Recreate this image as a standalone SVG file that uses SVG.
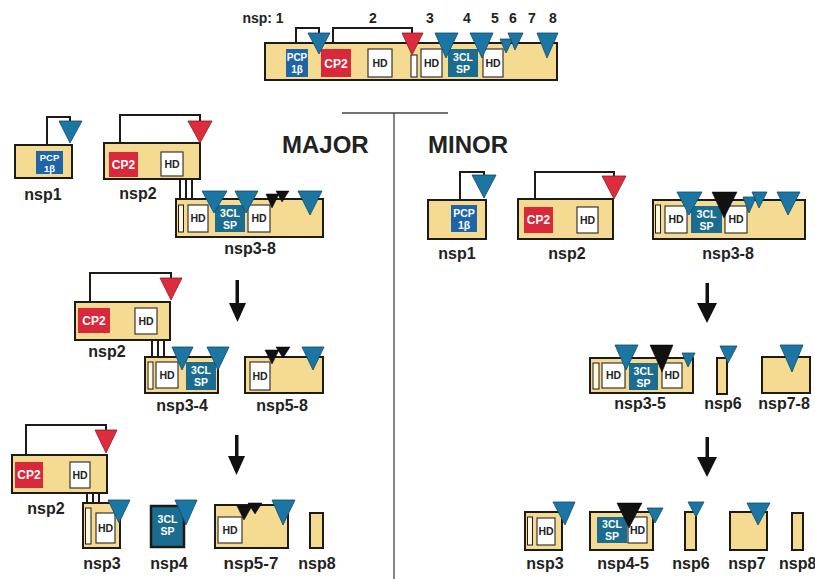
<svg xmlns="http://www.w3.org/2000/svg" width="815" height="579" viewBox="0 0 815 579">
<style>
text{font-family:"Liberation Sans",Arial,sans-serif;font-weight:bold}
.bar{fill:#f5da92;stroke:#1e1a16;stroke-width:2}
.strip{fill:#fff8e0;stroke:#1e1a16;stroke-width:1}
.hd{fill:#fff;stroke:#3a3530;stroke-width:1.2}
.pcp{fill:#1f63a8}
.cp{fill:#d9283a}
.sp{fill:#1a6d90}
.sp4{fill:#1a6d90;stroke:#1e1a16;stroke-width:2.5}
.tb{fill:#1b76a4;stroke:#0f4a68;stroke-width:0.8}
.tr{fill:#dc2c3e;stroke:#8a1a24;stroke-width:0.8}
.tk{fill:#111;stroke:#000;stroke-width:0.5}
.br{fill:none;stroke:#1e1a16;stroke-width:2}
.lk{stroke:#1e1a16;stroke-width:2}
.div{stroke:#444;stroke-width:1.3;fill:none}
.arr{fill:#111}
.w{fill:#fff;font-size:10.5px;text-anchor:middle}
.c{fill:#fff;font-size:12px;text-anchor:middle}
.d{fill:#222;font-size:10.5px;text-anchor:middle}
.lab{fill:#222;font-size:16px;text-anchor:middle}
.num{fill:#222;font-size:14px;text-anchor:middle}
.big{fill:#222;font-size:24px}
</style>

<g id="connectors">
  <path class="div" d="M342,113 H448 M394,113 V579"/>
  <path class="br" d="M296,43 V28 H319 V34"/>
  <path class="br" d="M333,43 V28 H412 V34"/>
  <path class="br" d="M47,145 V117 H70 V122"/>
  <path class="br" d="M120,143 V115 H200 V122"/>
  <path class="br" d="M90,302 V273 H171 V279"/>
  <path class="br" d="M26,455 V425 H106 V431"/>
  <path class="br" d="M460,200 V172 H484 V176"/>
  <path class="br" d="M535,199 V172 H614 V177"/>
  <path class="lk" d="M180,179 V199 M186,179 V199 M192,179 V199"/>
  <path class="lk" d="M152,340 V357 M158,340 V357 M164,340 V357"/>
  <path class="lk" d="M87,493 V503 M93,493 V503 M99,493 V503"/>
  <rect class="arr" x="235.5" y="280" width="3.5" height="24"/>
  <polygon class="arr" points="229,303 246,303 237.5,322"/>
  <rect class="arr" x="235" y="435" width="3.5" height="22"/>
  <polygon class="arr" points="228,456 245,456 236.5,475"/>
  <rect class="arr" x="705.5" y="283" width="3.5" height="21"/>
  <polygon class="arr" points="697,303 717,303 707,323"/>
  <rect class="arr" x="705.5" y="437" width="3.5" height="21"/>
  <polygon class="arr" points="697,457 717,457 707,477"/>
</g>

<g id="header">
  <text class="num" x="263" y="23">nsp: 1</text>
  <text class="num" x="373" y="23">2</text>
  <text class="num" x="430" y="23">3</text>
  <text class="num" x="467" y="23">4</text>
  <text class="num" x="495" y="23">5</text>
  <text class="num" x="513" y="23">6</text>
  <text class="num" x="532" y="23">7</text>
  <text class="num" x="553" y="23">8</text>
</g>

<g id="polyprotein">
  <rect class="bar" x="265" y="43" width="292" height="37"/>
  <rect class="pcp" x="286" y="49" width="22" height="28"/>
  <text class="w" x="297" y="61" style="font-size:10px">PCP</text><text class="w" x="297" y="73" style="font-size:10px">1β</text>
  <rect class="cp" x="321" y="49" width="30" height="28"/>
  <text class="c" x="336" y="67.5">CP2</text>
  <rect class="hd" x="368" y="49" width="24" height="28"/>
  <text class="d" x="380" y="67">HD</text>
  <rect class="hd" x="411" y="55" width="6" height="22"/>
  <rect class="hd" x="421" y="49" width="21" height="28"/>
  <text class="d" x="431.5" y="67">HD</text>
  <rect class="sp" x="448" y="49" width="30" height="28"/>
  <text class="w" x="463" y="61">3CL</text><text class="w" x="463" y="73">SP</text>
  <rect class="hd" x="483" y="49" width="20" height="28"/>
  <text class="d" x="493" y="67">HD</text>
  <polygon class="tb" points="308,33 330,33 319,54"/>
  <polygon class="tr" points="402,33 423,33 412,55"/>
  <polygon class="tb" points="435,33 458,33 446,58"/>
  <polygon class="tb" points="470,33 493,33 482,58"/>
  <polygon class="tb" points="500,39 513,39 506,53"/>
  <polygon class="tb" points="508,33 523,33 515,50"/>
  <polygon class="tb" points="537,33 558,33 547,58"/>
</g>

<text class="big" x="282" y="153">MAJOR</text>
<text class="big" x="428" y="153">MINOR</text>

<g id="maj1-nsp1">
  <rect class="bar" x="15" y="145" width="57" height="33"/>
  <rect class="pcp" x="36" y="151" width="27" height="23"/>
  <text class="w" x="49.5" y="160.5" style="font-size:9.5px">PCP</text><text class="w" x="49.5" y="171.5" style="font-size:9.5px">1β</text>
  <polygon class="tb" points="59,121 82,121 70,143"/>
  <text class="lab" x="43" y="200">nsp1</text>
</g>
<g id="maj1-nsp2">
  <rect class="bar" x="104" y="143" width="96" height="36"/>
  <rect class="cp" x="109" y="152" width="29" height="25"/>
  <text class="c" x="123.5" y="168.5">CP2</text>
  <rect class="hd" x="161" y="152" width="22" height="24"/>
  <text class="d" x="172" y="168">HD</text>
  <polygon class="tr" points="188,121 212,121 200,143"/>
  <text class="lab" x="138" y="199">nsp2</text>
</g>
<g id="maj1-nsp3-8">
  <rect class="bar" x="176" y="199" width="147" height="38"/>
  <rect class="strip" x="178.5" y="205" width="5" height="27"/>
  <rect class="hd" x="188" y="205" width="20" height="27"/>
  <text class="d" x="198" y="222">HD</text>
  <rect class="sp" x="215" y="205" width="30" height="27"/>
  <text class="w" x="230" y="216.5">3CL</text><text class="w" x="230" y="228.5">SP</text>
  <rect class="hd" x="248" y="205" width="22" height="27"/>
  <text class="d" x="259" y="222">HD</text>
  <polygon class="tb" points="202,191 227,191 214,213"/>
  <polygon class="tb" points="235,191 258,191 246,213"/>
  <polygon class="tk" points="266,194 279,194 272,208"/>
  <polygon class="tk" points="276,191 289,191 282,202"/>
  <polygon class="tb" points="298,191 322,191 310,215"/>
  <text class="lab" x="250" y="254">nsp3-8</text>
</g>

<g id="maj2-nsp2">
  <rect class="bar" x="75" y="302" width="95" height="38"/>
  <rect class="cp" x="78" y="308" width="32" height="25"/>
  <text class="c" x="94" y="324.5">CP2</text>
  <rect class="hd" x="135" y="308" width="22" height="26"/>
  <text class="d" x="146" y="325">HD</text>
  <polygon class="tr" points="160,278 182,278 171,300"/>
  <text class="lab" x="107" y="357">nsp2</text>
</g>
<g id="maj2-nsp3-4">
  <rect class="bar" x="145" y="357" width="73" height="36"/>
  <rect class="strip" x="148" y="362" width="5" height="27"/>
  <rect class="hd" x="156" y="362" width="22" height="26"/>
  <text class="d" x="167" y="379">HD</text>
  <rect class="sp" x="186" y="362" width="30" height="28"/>
  <text class="w" x="201" y="374">3CL</text><text class="w" x="201" y="386">SP</text>
  <polygon class="tb" points="172,347 193,347 182,370"/>
  <polygon class="tb" points="207,347 229,347 218,370"/>
  <text class="lab" x="182" y="411">nsp3-4</text>
</g>
<g id="maj2-nsp5-8">
  <rect class="bar" x="245" y="357" width="78" height="36"/>
  <rect class="hd" x="250" y="362" width="20" height="28"/>
  <text class="d" x="260" y="380">HD</text>
  <polygon class="tk" points="265,350 279,350 272,364"/>
  <polygon class="tk" points="276,347 290,347 283,358"/>
  <polygon class="tb" points="302,347 324,347 313,370"/>
  <text class="lab" x="282" y="411">nsp5-8</text>
</g>

<g id="maj3-nsp2">
  <rect class="bar" x="12" y="455" width="95" height="38"/>
  <rect class="cp" x="15" y="462" width="28" height="26"/>
  <text class="c" x="29" y="479">CP2</text>
  <rect class="hd" x="70" y="462" width="20" height="26"/>
  <text class="d" x="80" y="478.5">HD</text>
  <polygon class="tr" points="95,430 117,430 106,453"/>
  <text class="lab" x="46" y="514">nsp2</text>
</g>
<g id="maj3-nsp3">
  <rect class="bar" x="83" y="503" width="37" height="45"/>
  <rect class="strip" x="85.5" y="508" width="5.5" height="36"/>
  <rect class="hd" x="96" y="513" width="19" height="30"/>
  <text class="d" x="105.5" y="531.5">HD</text>
  <polygon class="tb" points="108,500 130,500 119,523"/>
  <text class="lab" x="102" y="569">nsp3</text>
</g>
<g id="maj3-nsp4">
  <rect class="sp4" x="151" y="506" width="33" height="41"/>
  <text class="w" x="167.5" y="523">3CL</text><text class="w" x="167.5" y="535">SP</text>
  <polygon class="tb" points="175,500 197,500 186,525"/>
  <text class="lab" x="169" y="569">nsp4</text>
</g>
<g id="maj3-nsp5-7">
  <rect class="bar" x="215" y="505" width="73" height="43"/>
  <rect class="hd" x="218" y="517" width="24" height="26"/>
  <text class="d" x="230" y="533.5">HD</text>
  <polygon class="tk" points="237,506 252,506 244,520"/>
  <polygon class="tk" points="248,503 262,503 255,514"/>
  <polygon class="tb" points="272,500 295,500 283,525"/>
  <text class="lab" x="251" y="569" style="font-size:17px">nsp5-7</text>
</g>
<g id="maj3-nsp8">
  <rect class="bar" x="310" y="513" width="13" height="35"/>
  <text class="lab" x="317" y="569">nsp8</text>
</g>

<g id="min1-nsp1">
  <rect class="bar" x="428" y="200" width="58" height="39"/>
  <rect class="pcp" x="451" y="205" width="26" height="27"/>
  <text class="w" x="464" y="217">PCP</text><text class="w" x="464" y="229">1β</text>
  <polygon class="tb" points="472,175 496,175 484,198"/>
  <text class="lab" x="457" y="259">nsp1</text>
</g>
<g id="min1-nsp2">
  <rect class="bar" x="518" y="199" width="95" height="40"/>
  <rect class="cp" x="524" y="207" width="29" height="26"/>
  <text class="c" x="538.5" y="224">CP2</text>
  <rect class="hd" x="577" y="207" width="21" height="26"/>
  <text class="d" x="587.5" y="223.5">HD</text>
  <polygon class="tr" points="602,176 626,176 614,199"/>
  <text class="lab" x="567" y="259">nsp2</text>
</g>
<g id="min1-nsp3-8">
  <rect class="bar" x="653" y="200" width="152" height="39"/>
  <rect class="strip" x="655.5" y="205" width="5" height="28"/>
  <rect class="hd" x="665" y="206" width="22" height="27"/>
  <text class="d" x="676" y="223">HD</text>
  <rect class="sp" x="691" y="206" width="31" height="27"/>
  <text class="w" x="706.5" y="217.5">3CL</text><text class="w" x="706.5" y="229.5">SP</text>
  <rect class="hd" x="725" y="206" width="22" height="27"/>
  <text class="d" x="736" y="223">HD</text>
  <polygon class="tb" points="677,192 702,192 689,215"/>
  <polygon class="tk" points="712,192 737,192 724,218"/>
  <polygon class="tb" points="743,197 756,197 749,213"/>
  <polygon class="tb" points="752,192 767,192 759,208"/>
  <polygon class="tb" points="777,192 800,192 788,215"/>
  <text class="lab" x="728" y="259">nsp3-8</text>
</g>

<g id="min2-nsp3-5">
  <rect class="bar" x="590" y="358" width="103" height="35"/>
  <rect class="strip" x="593" y="363" width="6" height="26"/>
  <rect class="hd" x="602" y="363" width="23" height="25"/>
  <text class="d" x="613.5" y="379">HD</text>
  <rect class="sp" x="629" y="363" width="29" height="27"/>
  <text class="w" x="643.5" y="374.5">3CL</text><text class="w" x="643.5" y="386.5">SP</text>
  <rect class="hd" x="662" y="363" width="20" height="25"/>
  <text class="d" x="672" y="379">HD</text>
  <polygon class="tb" points="615,345 638,345 626,370"/>
  <polygon class="tk" points="650,345 673,345 662,372"/>
  <polygon class="tb" points="682,353 695,353 688,367"/>
  <text class="lab" x="640" y="409">nsp3-5</text>
</g>
<g id="min2-nsp6">
  <rect class="bar" x="717" y="358" width="10" height="36"/>
  <polygon class="tb" points="720,346 737,346 728,363"/>
  <text class="lab" x="723" y="409">nsp6</text>
</g>
<g id="min2-nsp7-8">
  <rect class="bar" x="762" y="357" width="48" height="36"/>
  <polygon class="tb" points="780,345 803,345 792,372"/>
  <text class="lab" x="784" y="409">nsp7-8</text>
</g>

<g id="min3-nsp3">
  <rect class="bar" x="525" y="512" width="37" height="38"/>
  <rect class="strip" x="527.5" y="517" width="5" height="28"/>
  <rect class="hd" x="537" y="518" width="18" height="27"/>
  <text class="d" x="546" y="535">HD</text>
  <polygon class="tb" points="553,502 575,502 565,525"/>
  <text class="lab" x="545" y="569">nsp3</text>
</g>
<g id="min3-nsp4-5">
  <rect class="bar" x="590" y="512" width="63" height="38"/>
  <rect class="sp" x="597" y="517" width="30" height="26"/>
  <text class="w" x="612" y="528">3CL</text><text class="w" x="612" y="540">SP</text>
  <rect class="hd" x="628" y="517" width="19" height="26"/>
  <text class="d" x="637.5" y="533.5">HD</text>
  <polygon class="tk" points="617,503 642,503 629,528"/>
  <polygon class="tb" points="647,508 663,508 655,523"/>
  <text class="lab" x="623" y="569">nsp4-5</text>
</g>
<g id="min3-nsp6">
  <rect class="bar" x="685" y="512" width="11" height="38"/>
  <polygon class="tb" points="688,502 704,502 696,517"/>
  <text class="lab" x="691" y="569">nsp6</text>
</g>
<g id="min3-nsp7">
  <rect class="bar" x="730" y="512" width="37" height="38"/>
  <polygon class="tb" points="747,503 770,503 758,525"/>
  <text class="lab" x="747" y="569">nsp7</text>
</g>
<g id="min3-nsp8">
  <rect class="bar" x="792" y="513" width="11" height="37"/>
  <text class="lab" x="779" y="569" style="text-anchor:start">nsp8</text>
</g>
</svg>
